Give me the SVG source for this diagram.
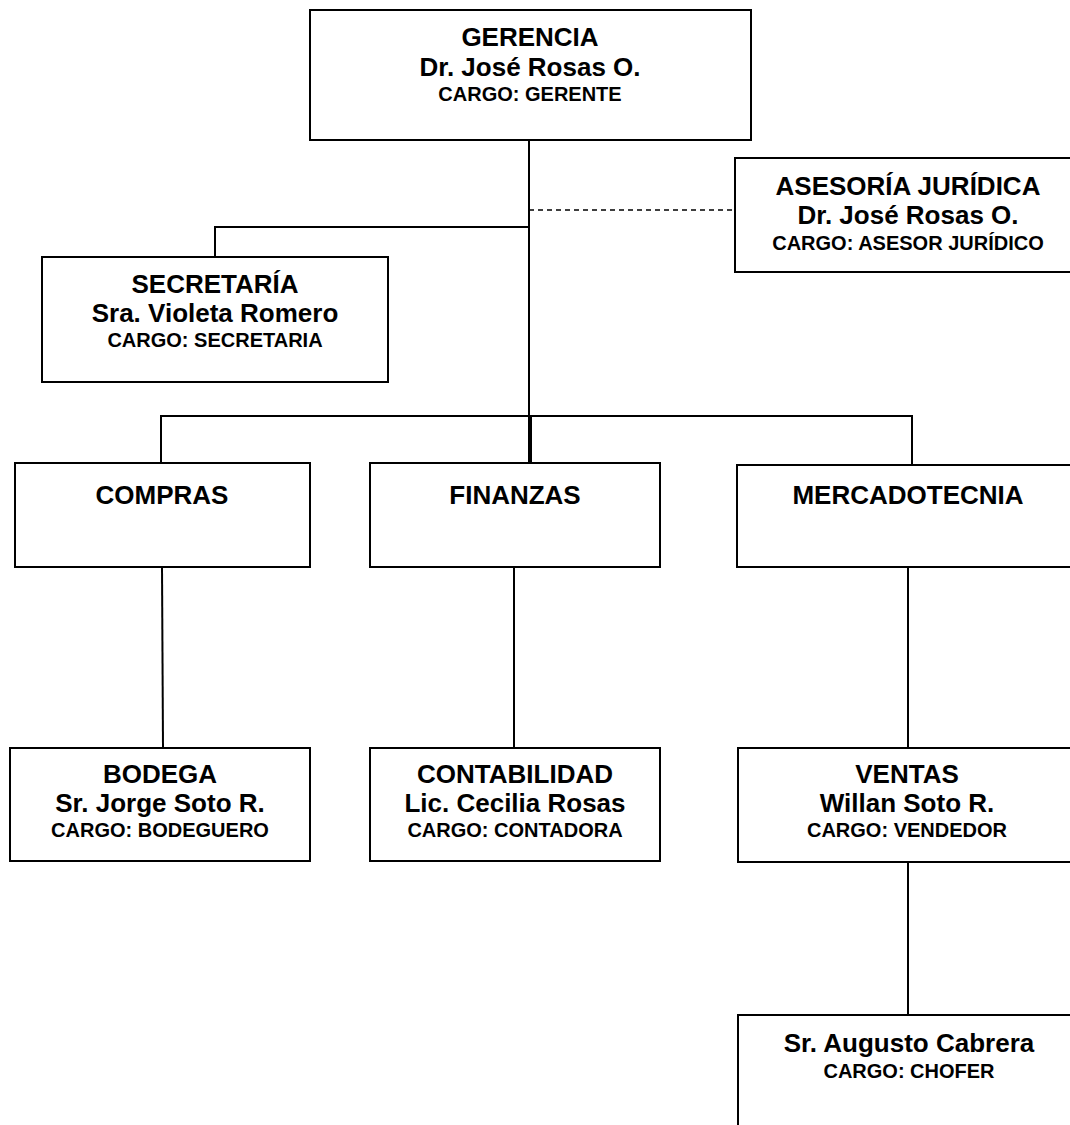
<svg xmlns="http://www.w3.org/2000/svg" width="1070" height="1125" viewBox="0 0 1070 1125">
<style>
.box{fill:#fff;stroke:#000;stroke-width:2}
.ln{fill:none;stroke:#000;stroke-width:2}
.dash{fill:none;stroke:#000;stroke-width:1.5;stroke-dasharray:5 4}
text{font-family:"Liberation Sans",Arial,sans-serif;font-weight:bold;fill:#000;text-anchor:middle}
.t{font-size:26px}
.c{font-size:20px}
</style>
<rect width="1070" height="1125" fill="#fff"/>
<g id="connectors">
<path class="ln" d="M529,140 V463"/>
<path class="ln" d="M531,416 V463"/>
<path class="dash" d="M529,210 H735"/>
<path class="ln" d="M529,227 H215 V257"/>
<path class="ln" d="M161,463 V416 H912 V465"/>
<path class="ln" d="M162,567 L163,748"/>
<path class="ln" d="M514,567 V748"/>
<path class="ln" d="M908,567 V748"/>
<path class="ln" d="M908,862 V1015"/>
</g>
<g id="gerencia">
<rect class="box" x="310" y="10" width="441" height="130"/>
<text class="t" x="530" y="46">GERENCIA</text>
<text class="t" x="530" y="76">Dr. José Rosas O.</text>
<text class="c" x="530" y="101">CARGO: GERENTE</text>
</g>
<g id="asesoria">
<rect class="box" x="735" y="158" width="350" height="114"/>
<text class="t" x="908" y="195">ASESORÍA JURÍDICA</text>
<text class="t" x="908" y="224">Dr. José Rosas O.</text>
<text class="c" x="908" y="250">CARGO: ASESOR JURÍDICO</text>
</g>
<g id="secretaria">
<rect class="box" x="42" y="257" width="346" height="125"/>
<text class="t" x="215" y="293">SECRETARÍA</text>
<text class="t" x="215" y="322">Sra. Violeta Romero</text>
<text class="c" x="215" y="347">CARGO: SECRETARIA</text>
</g>
<g id="compras">
<rect class="box" x="15" y="463" width="295" height="104"/>
<text class="t" x="162" y="504">COMPRAS</text>
</g>
<g id="finanzas">
<rect class="box" x="370" y="463" width="290" height="104"/>
<text class="t" x="515" y="504">FINANZAS</text>
</g>
<g id="mercadotecnia">
<rect class="box" x="737" y="465" width="345" height="102"/>
<text class="t" x="908" y="504">MERCADOTECNIA</text>
</g>
<g id="bodega">
<rect class="box" x="10" y="748" width="300" height="113"/>
<text class="t" x="160" y="783">BODEGA</text>
<text class="t" x="160" y="812">Sr. Jorge Soto R.</text>
<text class="c" x="160" y="837">CARGO: BODEGUERO</text>
</g>
<g id="contabilidad">
<rect class="box" x="370" y="748" width="290" height="113"/>
<text class="t" x="515" y="783">CONTABILIDAD</text>
<text class="t" x="515" y="812">Lic. Cecilia Rosas</text>
<text class="c" x="515" y="837">CARGO: CONTADORA</text>
</g>
<g id="ventas">
<rect class="box" x="738" y="748" width="345" height="114"/>
<text class="t" x="907" y="783">VENTAS</text>
<text class="t" x="907" y="812">Willan Soto R.</text>
<text class="c" x="907" y="837">CARGO: VENDEDOR</text>
</g>
<g id="chofer">
<rect class="box" x="738" y="1015" width="345" height="130"/>
<text class="t" x="909" y="1052">Sr. Augusto Cabrera</text>
<text class="c" x="909" y="1078">CARGO: CHOFER</text>
</g>
</svg>
